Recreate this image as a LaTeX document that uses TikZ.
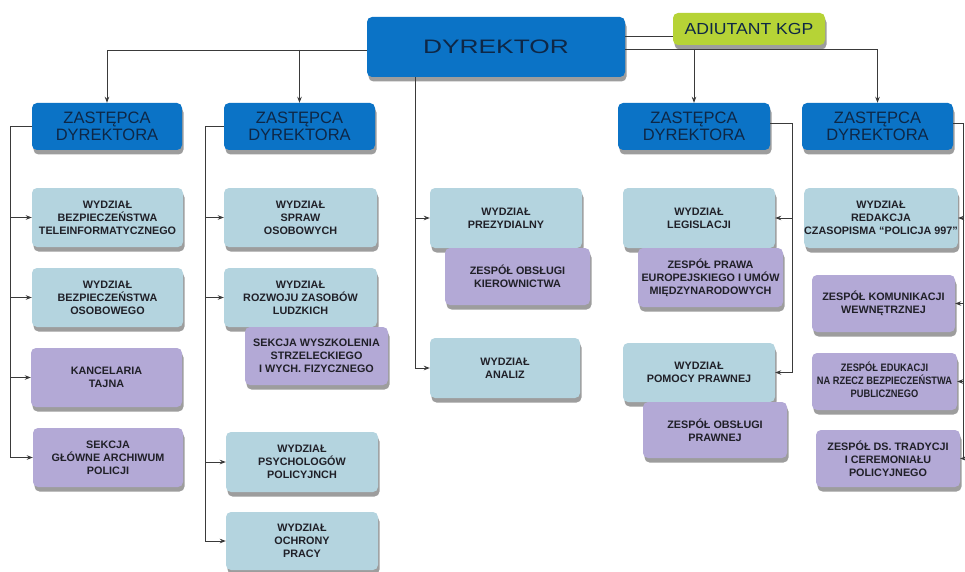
\documentclass[tikz,border=0pt]{standalone}
\usepackage{fontspec}
\setmainfont{Liberation Sans}
\usetikzlibrary{shadows,arrows.meta}
\definecolor{dblue}{HTML}{0B73C6}
\definecolor{lblue}{HTML}{B4D4DF}
\definecolor{purp}{HTML}{B3A9D6}
\definecolor{grn}{HTML}{B6D336}
\definecolor{ztext}{HTML}{0E2746}
\definecolor{btext}{HTML}{202028}
\definecolor{lineg}{HTML}{3A3A3A}
\begin{document}
\begin{tikzpicture}[x=1pt,y=-1pt,
  base/.style={rounded corners=5pt, inner sep=0pt, align=center,
    drop shadow={shadow xshift=1.5pt,shadow yshift=-4.5pt,opacity=0.45,fill=black!85}},
  topbox/.style={base, fill=dblue, text=ztext, font=\fontsize{16.5}{17}\selectfont},
  greenbox/.style={base, fill=grn, text=ztext, font=\fontsize{16}{17}\selectfont},
  wbox/.style={base, fill=lblue, text=btext, font=\bfseries\fontsize{10.8}{13}\selectfont},
  pbox/.style={base, fill=purp, text=btext, font=\bfseries\fontsize{10.8}{13}\selectfont},
  conn/.style={draw=lineg, line width=0.8pt, -{Stealth[length=6pt,width=4.5pt]}},
  plain/.style={draw=lineg, line width=0.8pt}]
\fill[white] (0,0) rectangle (965,572);
\useasboundingbox (0,0) rectangle (965,572);

% top level
\node[topbox, minimum width=258pt, minimum height=60pt, font=\fontsize{19.5}{20}\selectfont] (dyr) at (496,47) {\scalebox{1.35}[1]{DYREKTOR}};
\node[greenbox, minimum width=152pt, minimum height=32pt] (adi) at (749,29) {\scalebox{1.1}[1]{ADIUTANT KGP}};

\node[topbox, minimum width=150pt, minimum height=47pt] (zd1) at (107,126.5) {ZASTĘPCA\\DYREKTORA};
\node[topbox, minimum width=151pt, minimum height=47pt] (zd2) at (299.5,126.5) {ZASTĘPCA\\DYREKTORA};
\node[topbox, minimum width=152pt, minimum height=47pt] (zd3) at (694,126.5) {ZASTĘPCA\\DYREKTORA};
\node[topbox, minimum width=151pt, minimum height=47pt] (zd4) at (877.5,126.5) {ZASTĘPCA\\DYREKTORA};

% column 1
\node[wbox, minimum width=151pt, minimum height=59pt] (wbt) at (107.5,217.5) {WYDZIAŁ\\BEZPIECZEŃSTWA\\TELEINFORMATYCZNEGO};
\node[wbox, minimum width=151pt, minimum height=59pt] (wbo) at (107.5,297.5) {WYDZIAŁ\\BEZPIECZEŃSTWA\\OSOBOWEGO};
\node[pbox, minimum width=151pt, minimum height=59pt] (kt) at (106.5,377.5) {KANCELARIA\\TAJNA};
\node[pbox, minimum width=150pt, minimum height=59pt] (sgap) at (108,457.5) {SEKCJA\\GŁÓWNE ARCHIWUM\\POLICJI};

% column 2
\node[wbox, minimum width=153pt, minimum height=59pt] (wso) at (300.5,217.5) {WYDZIAŁ\\SPRAW\\OSOBOWYCH};
\node[wbox, minimum width=153pt, minimum height=59pt] (wrzl) at (300.5,297.5) {WYDZIAŁ\\ROZWOJU ZASOBÓW\\LUDZKICH};
\node[pbox, minimum width=143pt, minimum height=58pt] (sws) at (316.5,356) {SEKCJA WYSZKOLENIA\\STRZELECKIEGO\\I WYCH. FIZYCZNEGO};
\node[wbox, minimum width=152pt, minimum height=60pt] (wpp) at (302,462) {WYDZIAŁ\\PSYCHOLOGÓW\\POLICYJNCH};
\node[wbox, minimum width=152pt, minimum height=58pt] (wop) at (302,541) {WYDZIAŁ\\OCHRONY\\PRACY};

% column 3
\node[wbox, minimum width=152pt, minimum height=60pt] (wp) at (506,218) {WYDZIAŁ\\PREZYDIALNY};
\node[pbox, minimum width=145pt, minimum height=57pt] (zok) at (517.5,276.5) {ZESPÓŁ OBSŁUGI\\KIEROWNICTWA};
\node[wbox, minimum width=150pt, minimum height=60pt] (wa) at (505,368) {WYDZIAŁ\\ANALIZ};

% column 4
\node[wbox, minimum width=152pt, minimum height=60pt] (wl) at (699,218) {WYDZIAŁ\\LEGISLACJI};
\node[pbox, minimum width=145pt, minimum height=59pt] (zpe) at (710.5,277.5) {ZESPÓŁ PRAWA\\EUROPEJSKIEGO I UMÓW\\MIĘDZYNARODOWYCH};
\node[wbox, minimum width=152pt, minimum height=59pt] (wpr) at (699,372.5) {WYDZIAŁ\\POMOCY PRAWNEJ};
\node[pbox, minimum width=144pt, minimum height=56pt] (zop) at (715,430) {ZESPÓŁ OBSŁUGI\\PRAWNEJ};

% column 5
\node[wbox, minimum width=152pt, minimum height=60pt] (wrc) at (881,218) {WYDZIAŁ\\REDAKCJA\\CZASOPISMA ``POLICJA 997''};
\node[pbox, minimum width=143pt, minimum height=57pt] (zkw) at (883.5,303.5) {ZESPÓŁ KOMUNIKACJI\\WEWNĘTRZNEJ};
\node[pbox, minimum width=145pt, minimum height=57pt] (ze) at (884.5,381.5) {\scalebox{0.86}[1]{\begin{tabular}{@{}c@{}}ZESPÓŁ EDUKACJI\\NA RZECZ BEZPIECZEŃSTWA\\PUBLICZNEGO\end{tabular}}};
\node[pbox, minimum width=144pt, minimum height=57pt] (zdt) at (888,458.5) {ZESPÓŁ DS. TRADYCJI\\I CEREMONIAŁU\\POLICYJNEGO};

% connectors from DYREKTOR
\coordinate (l1) at ([yshift=-3pt]dyr.west);
\draw[conn] (l1) -| (zd1.north);
\draw[conn] (l1 -| zd2.north) -- (zd2.north);
\coordinate (r1) at ([yshift=-2pt]dyr.east);
\draw[conn] (r1) -| (zd4.north);
\draw[conn] (r1 -| zd3.north) -- (zd3.north);
\draw[plain] ([yshift=-7pt]adi.west) -- ([yshift=-7pt]adi.west -| dyr.east);
\coordinate (dv) at ([xshift=-81pt]dyr.south);
\draw[conn] (dv) |- (wa.west);
\draw[conn] (dv |- wp.west) -- (wp.west);

% ZD1 branch
\coordinate (c1) at (10,0);
\draw[conn] (zd1.west) -| (c1 |- sgap.west) -- (sgap.west);
\draw[conn] (c1 |- wbt.west) -- (wbt.west);
\draw[conn] (c1 |- wbo.west) -- (wbo.west);
\draw[conn] (c1 |- kt.west) -- (kt.west);

% ZD2 branch
\coordinate (c2) at (205,0);
\draw[conn] (zd2.west) -| (c2 |- wop.west) -- (wop.west);
\draw[conn] (c2 |- wso.west) -- (wso.west);
\draw[conn] (c2 |- wrzl.west) -- (wrzl.west);
\draw[conn] (c2 |- wpp.west) -- (wpp.west);

% ZD3 branch
\coordinate (c3) at (792,0);
\draw[conn] ([yshift=3pt]zd3.east) -| (c3 |- wpr.east) -- (wpr.east);
\draw[conn] (c3 |- wl.east) -- (wl.east);

% ZD4 branch
\coordinate (c4) at (963,0);
\draw[conn] ([yshift=3pt]zd4.east) -| (c4 |- zdt.east) -- (zdt.east);
\draw[conn] (c4 |- wrc.east) -- (wrc.east);
\draw[conn] (c4 |- zkw.east) -- (zkw.east);
\draw[conn] (c4 |- ze.east) -- (ze.east);
\end{tikzpicture}
\end{document}
